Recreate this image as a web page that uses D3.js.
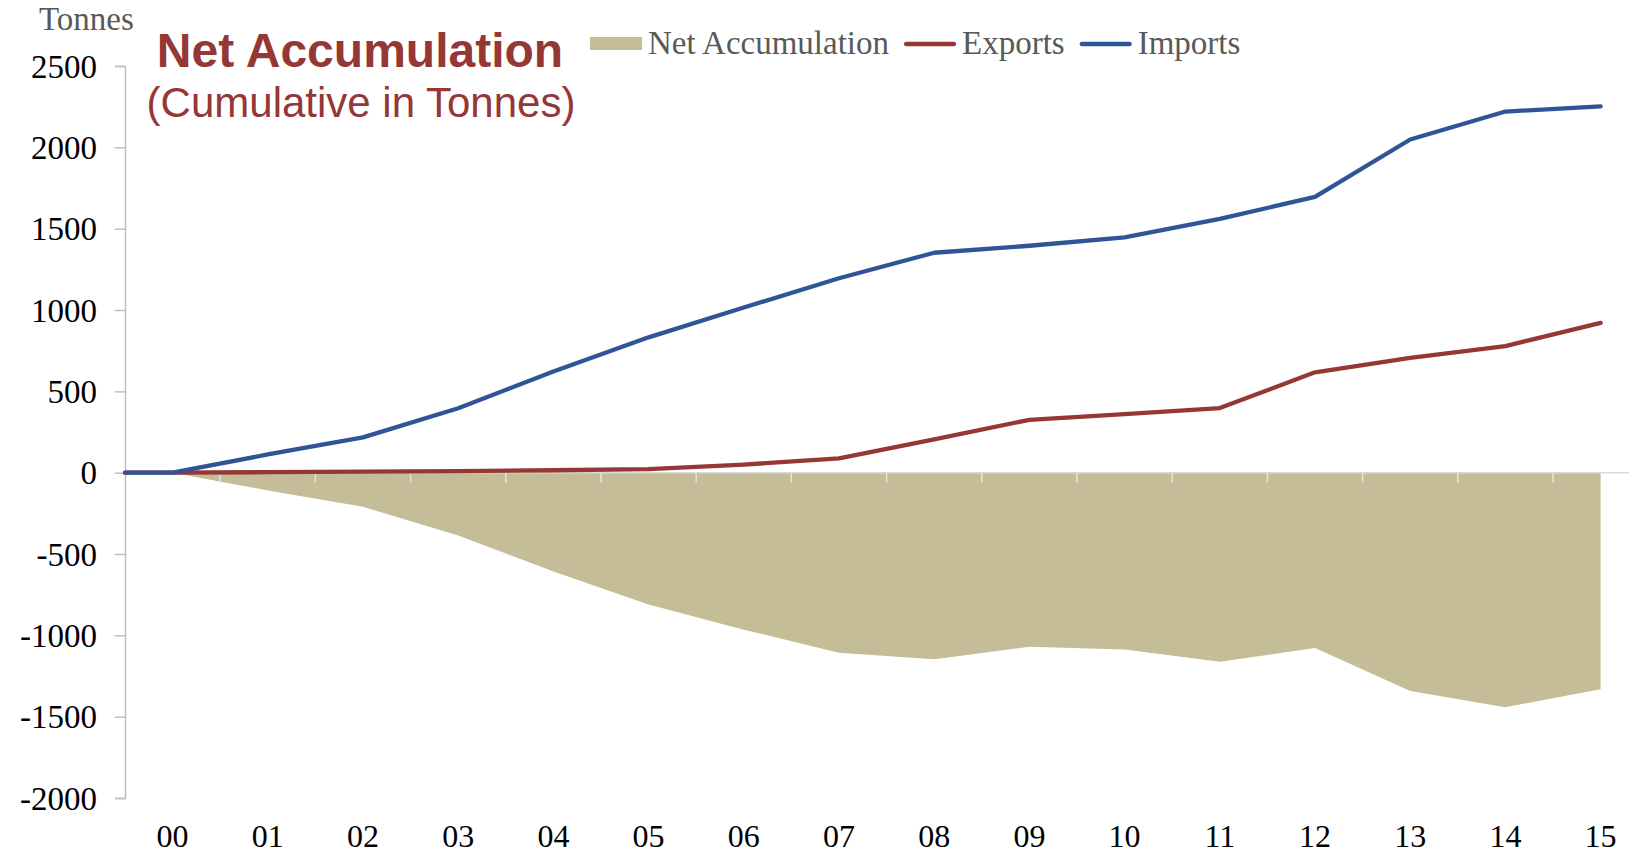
<!DOCTYPE html>
<html>
<head>
<meta charset="utf-8">
<script src="https://cdn.jsdelivr.net/npm/d3@7"></script>
<style>
  body { margin: 0; background: #fff; }
  svg { display: block; }
</style>
</head>
<body>
<div class="chart"></div>
<script>
const years = ["00", "01", "02", "03", "04", "05", "06", "07", "08", "09", "10", "11", "12", "13", "14", "15"];
const imports = [0, 112, 217, 396, 622, 832, 1015, 1195, 1352, 1395, 1447, 1560, 1695, 2048, 2220, 2252];
const exports = [0, 3, 7, 10, 15, 22, 50, 88, 205, 325, 360, 397, 617, 706, 778, 921];
const netAccumulation = [0, -109, -210, -386, -607, -810, -965, -1107, -1147, -1070, -1087, -1163, -1078, -1342, -1442, -1331];
const yTicks = [2500, 2000, 1500, 1000, 500, 0, -500, -1000, -1500, -2000];
const startValue = 0; // lines start at the axis edge

(() => {
  const width = 1629;
  const height = 855;
  const plot = { left: 125, top: 66, bottom: 798, step: 95.2 };
  const colors = { net: "#c4bd97", exports: "#953735", imports: "#2f5597" };
  const serif = "'Liberation Serif', 'Times New Roman', serif";
  const sans = "'Liberation Sans', Arial, sans-serif";

  const svg = d3
    .select(".chart")
    .append("svg")
    .attr("width", width)
    .attr("height", height);

  const x = d3
    .scaleBand()
    .domain(years)
    .range([plot.left, plot.left + plot.step * years.length]);
  const y = d3.scaleLinear().domain([-2000, 2500]).range([plot.bottom, plot.top]);
  const cx = (d) => x(d) + x.bandwidth() / 2;

  // net accumulation area
  svg
    .append("path")
    .datum(years)
    .attr(
      "d",
      d3
        .area()
        .x(cx)
        .y0(y(0))
        .y1((d, i) => y(netAccumulation[i]))
    )
    .attr("fill", colors.net);

  // zero line + category ticks
  svg
    .append("line")
    .attr("x1", x.range()[0])
    .attr("x2", x.range()[1])
    .attr("y1", y(0))
    .attr("y2", y(0))
    .attr("stroke", "#d9d9d9")
    .attr("stroke-width", 1.5);
  svg
    .append("g")
    .selectAll("line")
    .data(years)
    .enter()
    .append("line")
    .attr("x1", (d) => x(d) + x.bandwidth())
    .attr("x2", (d) => x(d) + x.bandwidth())
    .attr("y1", y(0))
    .attr("y2", y(0) + 10)
    .attr("stroke", "#e3e3e3")
    .attr("stroke-width", 1.5);

  // y axis
  const yAxis = svg
    .append("g")
    .attr("transform", `translate(${plot.left},0)`)
    .call(
      d3
        .axisLeft(y)
        .tickValues(yTicks)
        .tickSize(10)
        .tickPadding(18)
        .tickFormat((d) => String(d))
    );
  yAxis.select(".domain").attr("stroke", "#bfbfbf").attr("stroke-width", 1.5);
  yAxis.selectAll(".tick line").attr("stroke", "#bfbfbf").attr("stroke-width", 1.5);
  yAxis
    .selectAll("text")
    .attr("font-family", serif)
    .attr("font-size", 33)
    .attr("fill", "#000")
    .attr("dy", "0.34em");

  // x labels
  const xAxis = svg
    .append("g")
    .attr("transform", `translate(0,${plot.bottom})`)
    .call(d3.axisBottom(x).tickSize(0).tickPadding(26));
  xAxis.select(".domain").remove();
  xAxis
    .selectAll("text")
    .attr("font-family", serif)
    .attr("font-size", 32)
    .attr("fill", "#000");

  // lines
  const line = d3
    .line()
    .x((p) => p[0])
    .y((p) => y(p[1]));
  const series = [
    { key: "exports", values: exports },
    { key: "imports", values: imports },
  ];
  series.forEach((s) => {
    const pts = [[x.range()[0], startValue]].concat(
      years.map((d, i) => [cx(d), s.values[i]])
    );
    svg
      .append("path")
      .datum(pts)
      .attr("d", line)
      .attr("fill", "none")
      .attr("stroke", colors[s.key])
      .attr("stroke-width", 4.3)
      .attr("stroke-linejoin", "round")
      .attr("stroke-linecap", "round");
  });

  // "Tonnes" unit label
  svg
    .append("text")
    .attr("x", 39)
    .attr("y", 30)
    .attr("font-family", serif)
    .attr("font-size", 33)
    .attr("fill", "#595959")
    .text("Tonnes");

  // title
  svg
    .append("text")
    .attr("x", 360)
    .attr("y", 67)
    .attr("text-anchor", "middle")
    .attr("font-family", sans)
    .attr("font-weight", "bold")
    .attr("font-size", 48)
    .attr("fill", "#953735")
    .text("Net Accumulation");
  svg
    .append("text")
    .attr("x", 361)
    .attr("y", 117)
    .attr("text-anchor", "middle")
    .attr("font-family", sans)
    .attr("font-size", 42)
    .attr("fill", "#953735")
    .text("(Cumulative in Tonnes)");

  // legend
  const legendItems = [
    { label: "Net Accumulation", key: "net", type: "area" },
    { label: "Exports", key: "exports", type: "line" },
    { label: "Imports", key: "imports", type: "line" },
  ];
  const legend = svg.append("g").attr("transform", "translate(590,44)");
  let lx = 0;
  legendItems.forEach((item) => {
    if (item.type === "area") {
      legend
        .append("rect")
        .attr("x", lx)
        .attr("y", -7)
        .attr("width", 52)
        .attr("height", 13)
        .attr("fill", colors[item.key]);
    } else {
      legend
        .append("line")
        .attr("x1", lx + 2)
        .attr("x2", lx + 50)
        .attr("y1", 0)
        .attr("y2", 0)
        .attr("stroke", colors[item.key])
        .attr("stroke-width", 4.3)
        .attr("stroke-linecap", "round");
    }
    const t = legend
      .append("text")
      .attr("x", lx + 58)
      .attr("y", 10)
      .attr("font-family", serif)
      .attr("font-size", 33)
      .attr("fill", "#595959")
      .text(item.label);
    lx += 58 + t.node().getComputedTextLength() + 15;
  });
})();
</script>
</body>
</html>
